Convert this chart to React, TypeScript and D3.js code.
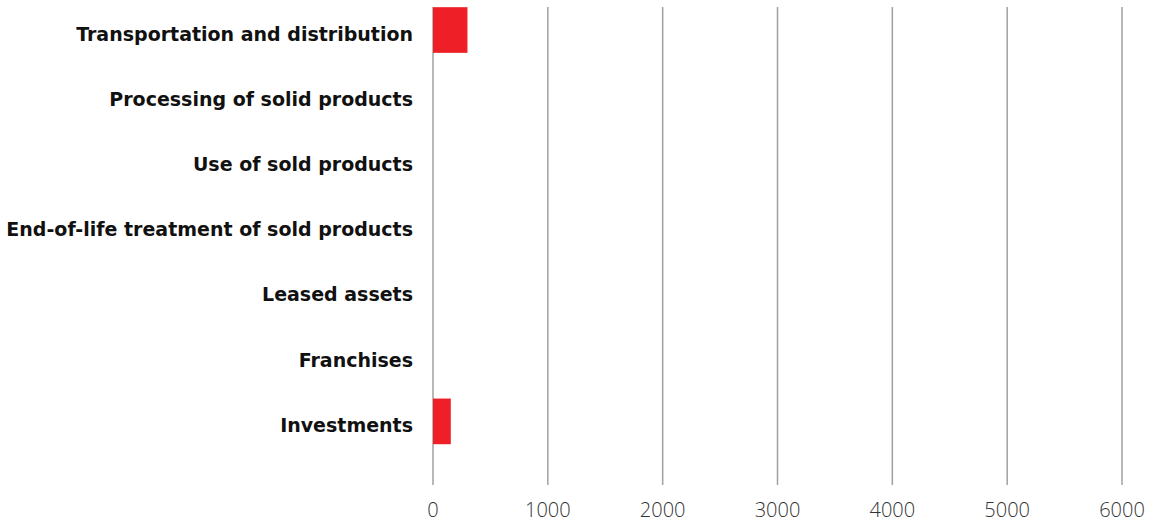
import React, { useEffect } from "react";
import * as d3 from "d3";

const categories = [
  "Transportation and distribution",
  "Processing of solid products",
  "Use of sold products",
  "End-of-life treatment of sold products",
  "Leased assets",
  "Franchises",
  "Investments",
];
const values = [300, 0, 0, 0, 0, 0, 155];
const ticks = [0, 1000, 2000, 3000, 4000, 5000, 6000];

const W = 1157;
const H = 527;

export default function App() {
  useEffect(() => {
    document.body.style.margin = "0";
  }, []);

  const x = d3.scaleLinear().domain([0, 6000]).range([433, 1122]);
  const y = d3
    .scaleBand<string>()
    .domain(categories)
    .range([-2.6, 454])
    .paddingInner(0.3)
    .paddingOuter(0.15);

  const gridTop = 7;
  const gridBottom = 485;

  return (
    <svg width={W} height={H} style={{ display: "block" }}>
      <rect width={W} height={H} fill="#fff" />
      {ticks.map((t) => (
        <g key={t}>
          <line
            x1={x(t)}
            x2={x(t)}
            y1={gridTop}
            y2={gridBottom}
            stroke="#a0a0a0"
            strokeWidth={1.5}
          />
          <text
            x={x(t)}
            y={512}
            textAnchor="middle"
            dominantBaseline="middle"
            fontFamily="'Open Sans', sans-serif"
            fontWeight={300}
            fontSize={20}
            fill="#333"
          >
            {t}
          </text>
        </g>
      ))}
      {categories.map((c, i) => (
        <g key={c}>
          <rect
            x={x(0)}
            y={y(c)!}
            width={x(values[i]) - x(0)}
            height={y.bandwidth()}
            fill="#ee1f26"
          />
          <text
            x={413}
            y={y(c)! + y.bandwidth() / 2 + 5}
            textAnchor="end"
            dominantBaseline="middle"
            fontFamily="'DejaVu Sans', sans-serif"
            fontWeight={700}
            fontSize={19}
            fill="#111"
          >
            {c}
          </text>
        </g>
      ))}
    </svg>
  );
}
